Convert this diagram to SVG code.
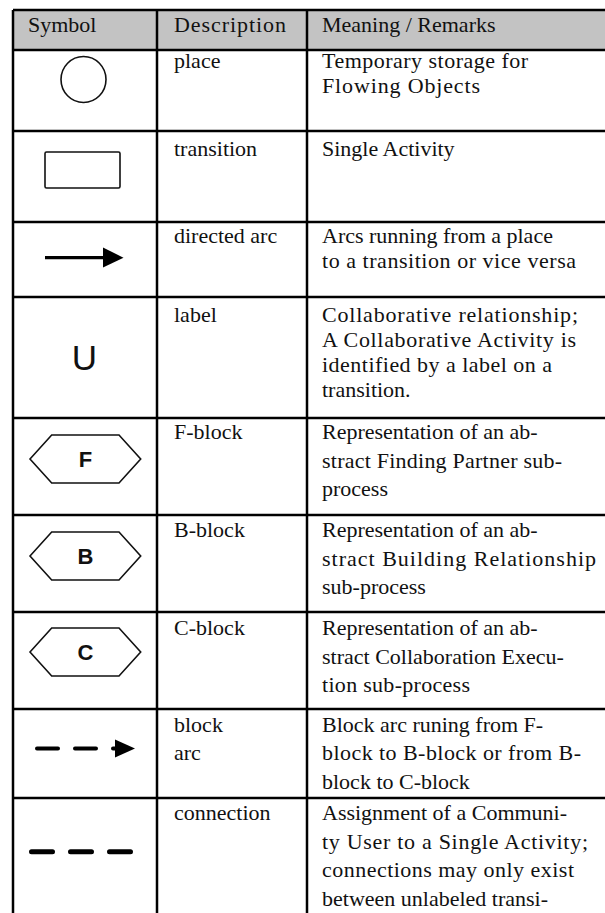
<svg xmlns="http://www.w3.org/2000/svg" width="605" height="913" viewBox="0 0 605 913">
<style>
  .grid { stroke: #000; stroke-width: 2.5; fill: none; }
  .t { font-family: "Liberation Serif", "Times New Roman", serif; font-size: 22px; fill: #111; }
  .sym { fill: none; stroke: #111; stroke-width: 1.6; }
  .hex { fill: #fff; stroke: #111; stroke-width: 1.6; }
  .hl { font-family: "Liberation Sans", Arial, sans-serif; font-weight: bold; font-size: 22px; fill: #111; text-anchor: middle; }
</style>
<defs>
  <polygon id="hexshape" points="30,0 51.7,-24 119,-24 140.7,0 119,24 51.7,24"/>
</defs>
<rect x="0" y="0" width="605" height="913" fill="#fff"/>
<g id="table">
  <rect x="13" y="10" width="600" height="40" fill="#c3c3c3"/>
  <path class="grid" d="M13,10 H610 M13,50 H610 M13,131 H610 M13,222 H610 M13,297 H610 M13,418 H610 M13,515 H610 M13,612 H610 M13,709 H610 M13,798 H610 M13,10 V913 M157,10 V913 M307,10 V913"/>
  <g id="header">
    <text class="t" x="28" y="32">Symbol</text>
    <text class="t" x="174" y="32" textLength="112" lengthAdjust="spacing">Description</text>
    <text class="t" x="322" y="32">Meaning / Remarks</text>
  </g>
</g>
<g id="row-place">
  <ellipse class="sym" cx="83.5" cy="79.5" rx="22.5" ry="23"/>
  <text class="t" x="174" y="68">place</text>
  <text class="t" x="322" y="68" textLength="206" lengthAdjust="spacing">Temporary storage for</text>
  <text class="t" x="322" y="93" textLength="158" lengthAdjust="spacing">Flowing Objects</text>
</g>
<g id="row-transition">
  <rect class="sym" x="45" y="152" width="75" height="36" rx="1.5" stroke-width="2"/>
  <text class="t" x="174" y="156">transition</text>
  <text class="t" x="322" y="156">Single Activity</text>
</g>
<g id="row-arc">
  <line x1="45" y1="257.7" x2="106" y2="257.7" stroke="#000" stroke-width="3.2"/>
  <polygon points="103,247.5 123.5,257.7 103,267.5" fill="#000"/>
  <text class="t" x="174" y="243">directed arc</text>
  <text class="t" x="322" y="243">Arcs running from a place</text>
  <text class="t" x="322" y="268" textLength="254" lengthAdjust="spacing">to a transition or vice versa</text>
</g>
<g id="row-label">
  <text x="84.5" y="370" font-family="Liberation Sans, Arial, sans-serif" font-size="35" text-anchor="middle" fill="#111">U</text>
  <text class="t" x="174" y="322">label</text>
  <text class="t" x="322" y="322" textLength="256" lengthAdjust="spacing">Collaborative relationship;</text>
  <text class="t" x="322" y="347" textLength="254" lengthAdjust="spacing">A Collaborative Activity is</text>
  <text class="t" x="322" y="372" textLength="230" lengthAdjust="spacing">identified by a label on a</text>
  <text class="t" x="322" y="397">transition.</text>
</g>
<g id="row-fblock">
  <use href="#hexshape" class="hex" transform="translate(0,459)"/>
  <text class="hl" x="85.5" y="467">F</text>
  <text class="t" x="174" y="439">F-block</text>
  <text class="t" x="322" y="439">Representation of an ab-</text>
  <text class="t" x="322" y="467.5" textLength="240" lengthAdjust="spacing">stract Finding Partner sub-</text>
  <text class="t" x="322" y="496">process</text>
</g>
<g id="row-bblock">
  <use href="#hexshape" class="hex" transform="translate(0,556)"/>
  <text class="hl" x="85.5" y="564">B</text>
  <text class="t" x="174" y="537">B-block</text>
  <text class="t" x="322" y="537">Representation of an ab-</text>
  <text class="t" x="322" y="565.5" textLength="274" lengthAdjust="spacing">stract Building Relationship</text>
  <text class="t" x="322" y="594">sub-process</text>
</g>
<g id="row-cblock">
  <use href="#hexshape" class="hex" transform="translate(0,652)"/>
  <text class="hl" x="85.5" y="660">C</text>
  <text class="t" x="174" y="635">C-block</text>
  <text class="t" x="322" y="635">Representation of an ab-</text>
  <text class="t" x="322" y="663.5">stract Collaboration Execu-</text>
  <text class="t" x="322" y="692" textLength="148" lengthAdjust="spacing">tion sub-process</text>
</g>
<g id="row-blockarc">
  <line x1="37" y1="748.5" x2="125" y2="748.5" stroke="#000" stroke-width="4" stroke-linecap="round" stroke-dasharray="21 17"/>
  <polygon points="115,739.5 135,748.5 115,757.5" fill="#000"/>
  <text class="t" x="174" y="731.5">block</text>
  <text class="t" x="174" y="760">arc</text>
  <text class="t" x="322" y="731.5">Block arc runing from F-</text>
  <text class="t" x="322" y="760" textLength="259" lengthAdjust="spacing">block to B-block or from B-</text>
  <text class="t" x="322" y="788.5">block to C-block</text>
</g>
<g id="row-connection">
  <line x1="31.5" y1="851.7" x2="130.5" y2="851.7" stroke="#000" stroke-width="5" stroke-linecap="round" stroke-dasharray="21 18"/>
  <text class="t" x="174" y="820">connection</text>
  <text class="t" x="322" y="820">Assignment of a Communi-</text>
  <text class="t" x="322" y="848.5" textLength="266" lengthAdjust="spacing">ty User to a Single Activity;</text>
  <text class="t" x="322" y="877" textLength="252" lengthAdjust="spacing">connections may only exist</text>
  <text class="t" x="322" y="905.5">between unlabeled transi-</text>
</g>
</svg>
